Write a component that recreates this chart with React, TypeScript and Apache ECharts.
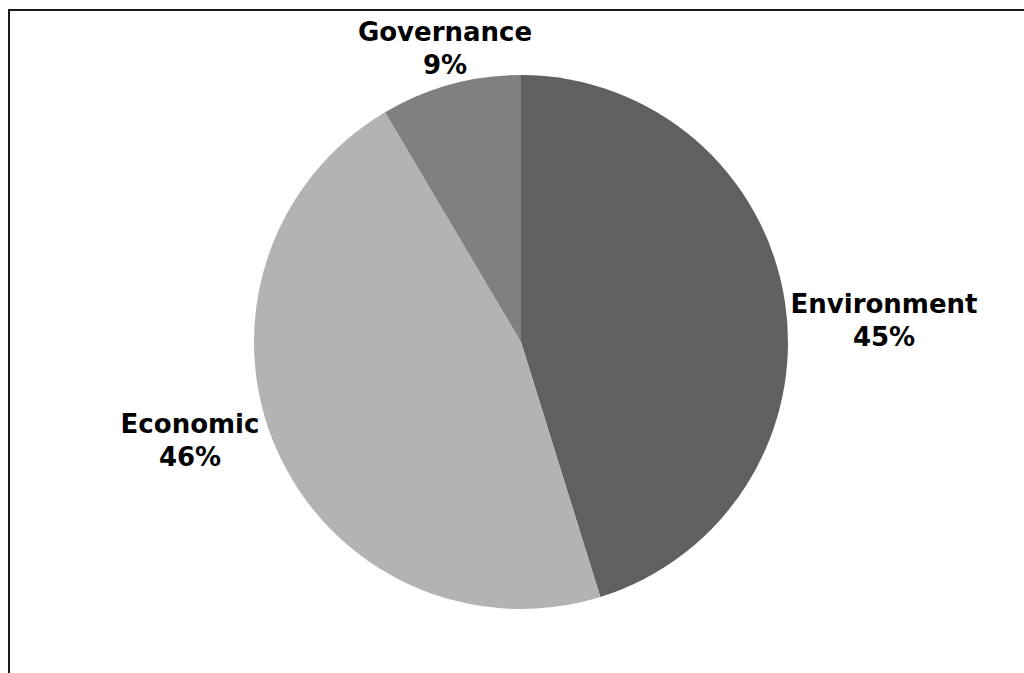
import React, { useEffect, useRef } from "react";
import * as echarts from "echarts";

const categories = ["Environment", "Economic", "Governance"];
const values = [45.2, 46.3, 8.5];
const colors = ["#606060", "#b3b3b3", "#808080"];
const labelPos = [
  [884, 320],
  [190, 440],
  [445, 48],
];

export default function App() {
  const ref = useRef<HTMLDivElement>(null);
  useEffect(() => {
    if (!ref.current) return;
    const chart = echarts.init(ref.current, undefined, { renderer: "svg" });
    chart.setOption({
      animation: false,
      backgroundColor: "#ffffff",
      graphic: [
        {
          type: "rect",
          shape: { x: 9, y: 10, width: 1200, height: 1000 },
          style: { fill: "none", stroke: "#1a1a1a", lineWidth: 2 },
          silent: true,
        },
      ],
      series: [
        {
          type: "pie",
          center: [521, 342],
          radius: 267,
          startAngle: 90,
          clockwise: true,
          data: categories.map((name, i) => ({
            name,
            value: values[i],
            itemStyle: { color: colors[i] },
          })),
          label: {
            show: true,
            position: "outside",
            alignTo: "none",
            overflow: "none",
            formatter: (p: any) => `${p.name}\n${Math.round(p.percent)}%`,
            fontFamily: "DejaVu Sans",
            fontWeight: "bold",
            fontSize: 26,
            lineHeight: 33,
            color: "#000000",
            align: "center",
          },
          labelLine: { show: false },
          labelLayout: (params: any) => ({
            x: labelPos[params.dataIndex][0],
            y: labelPos[params.dataIndex][1],
            align: "center",
            verticalAlign: "middle",
          }),
          emphasis: { disabled: true },
        },
      ],
    });
    return () => chart.dispose();
  }, []);
  return (
    <div
      ref={ref}
      style={{ position: "absolute", left: 0, top: 0, width: 1024, height: 673 }}
    />
  );
}
